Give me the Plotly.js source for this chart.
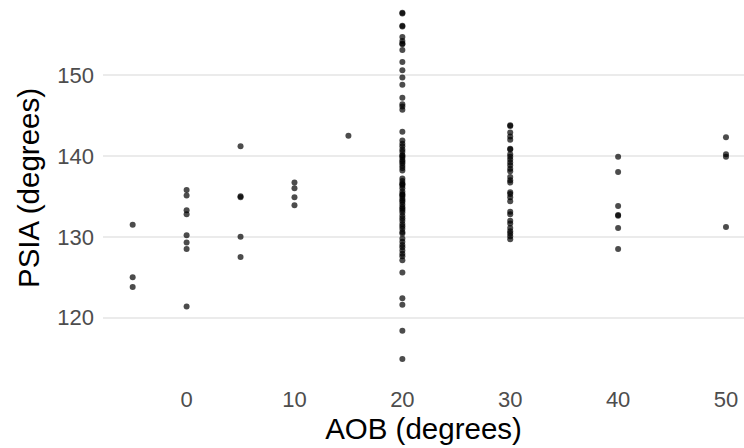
<!DOCTYPE html>
<html>
<head>
<meta charset="utf-8">
<script src="https://cdn.plot.ly/plotly-3.0.1.min.js"></script>
<style>html,body{margin:0;padding:0;background:#fff;}#chart{width:744px;height:448px;}</style>
</head>
<body>
<div id="chart"></div>
<script>
// AOB groups (degrees) and PSIA values (degrees)
const aobLevels = [-5, 0, 5, 10, 15, 20, 30, 40, 50];
const psiaAobM5 = [131.5, 125.0, 123.8];
const psiaAob0 = [135.8, 135.1, 133.3, 132.8, 130.2, 129.3, 128.5, 121.4];
const psiaAob5 = [141.2, 134.9, 135.0, 130.0, 127.5];
const psiaAob10 = [136.7, 136.0, 134.9, 133.9];
const psiaAob15 = [142.5];
const psiaAob20 = [
  157.7, 157.6, 156.1, 156.0, 154.7, 154.2, 153.9, 153.8, 153.1, 151.6, 150.6, 149.7,
  148.8, 147.2, 146.4, 146.1, 145.7, 143.0,
  141.9, 141.5, 141.2, 140.8, 140.5, 140.1, 139.8, 139.5, 139.1, 138.8, 138.5, 138.2, 140.0, 139.3,
  137.2, 136.9, 136.6, 136.3, 136.0, 135.6, 135.3, 135.0, 134.7, 134.3, 134.0, 133.7, 133.3, 133.0,
  132.6, 132.3, 132.0, 131.6, 131.3, 131.0, 130.6, 130.4, 136.5, 135.2, 134.5, 133.5,
  129.8, 129.4, 129.0, 128.7, 128.3, 127.9, 127.6, 127.1,
  125.6, 122.4, 121.6, 118.4, 114.9
];
const psiaAob30 = [
  143.8, 143.7, 142.9, 142.4, 142.0, 140.9, 140.8, 140.2, 139.9, 139.55, 139.2, 138.85, 138.4, 138.1,
  137.4, 137.0, 136.7, 135.5, 135.3, 134.9, 134.4, 133.1, 132.8, 132.0, 131.65, 131.1, 130.7,
  130.4, 130.06, 129.7
];
const psiaAob40 = [139.9, 138.0, 133.8, 132.7, 132.6, 131.1, 128.5];
const psiaAob50 = [142.3, 140.2, 139.9, 131.2];

const groups = [psiaAobM5, psiaAob0, psiaAob5, psiaAob10, psiaAob15, psiaAob20, psiaAob30, psiaAob40, psiaAob50];
const xs = [], ys = [];
groups.forEach((vals, i) => vals.forEach(v => { xs.push(aobLevels[i]); ys.push(v); }));

const yTicks = [120, 130, 140, 150];
const xTicks = [0, 10, 20, 30, 40, 50];

const trace = {
  x: xs, y: ys, type: 'scatter', mode: 'markers',
  marker: {color: 'rgba(0,0,0,0.7)', size: 6, line: {width: 0}},
  hoverinfo: 'x+y', showlegend: false
};

const layout = {
  width: 744, height: 448,
  paper_bgcolor: '#ffffff', plot_bgcolor: '#ffffff',
  margin: {l: 103, r: 0, t: 0, b: 72},
  font: {family: 'Liberation Sans, Arial, sans-serif'},
  xaxis: {
    range: [-7.75, 51.67],
    tickvals: xTicks, ticktext: xTicks.map(String),
    showgrid: false, zeroline: false, showline: false, ticks: '',
    tickfont: {size: 22, color: '#4D4D4D'},
    ticklabelstandoff: 8,
    title: {text: 'AOB (degrees)', font: {size: 29.5, color: '#000000'}, standoff: 3}
  },
  yaxis: {
    range: [112.8, 159.27],
    tickvals: yTicks, ticktext: yTicks.map(String),
    showgrid: true, gridcolor: '#EBEBEB', gridwidth: 2,
    zeroline: false, showline: false, ticks: '',
    tickfont: {size: 22, color: '#4D4D4D'},
    ticklabelstandoff: 8,
    title: {text: 'PSIA (degrees)', font: {size: 29.5, color: '#000000'}, standoff: 8}
  }
};

Plotly.newPlot('chart', [trace], layout, {displayModeBar: false, staticPlot: true});
</script>
</body>
</html>
